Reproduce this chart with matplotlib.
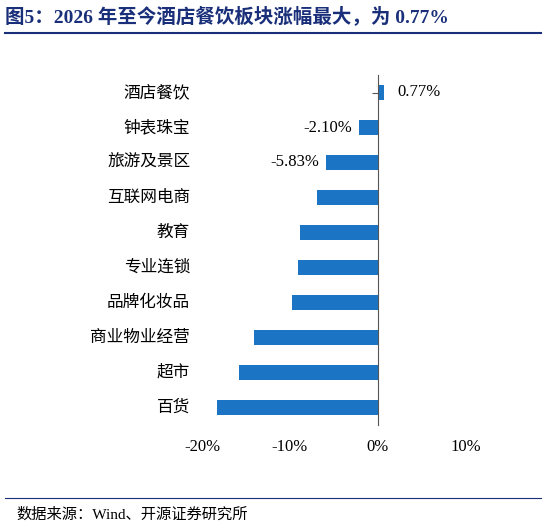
import matplotlib
matplotlib.use("Agg")
import matplotlib.pyplot as plt
import matplotlib.transforms as mtrans

categories = ["酒店餐饮", "钟表珠宝", "旅游及景区", "互联网电商", "教育", "专业连锁",
              "品牌化妆品", "商业物业经营", "超市", "百货"]
values = [0.77, -2.10, -5.83, -6.9, -8.9, -9.1, -9.8, -14.1, -15.8, -18.3]
labeled = {0: "0.77%", 1: "-2.10%", 2: "-5.83%"}
xticks = [-20, -10, 0, 10]
xticklabels = ["-20%", "-10%", "0%", "10%"]

fam = ["Liberation Serif", "Noto Sans CJK SC"]
plt.rcParams['font.family'] = fam

fig = plt.figure(figsize=(5.46, 5.30), dpi=100)
ax = fig.add_axes([180/546, 1-425/530, 290/546, 350/530])
y = list(range(len(categories)))
ax.barh(y, values, height=0.45, color="#1c75c4", zorder=2)
ax.set_ylim(9.5, -0.5)
ax.set_xlim(-22.5, 10.5)
for s in ["top", "right", "bottom"]:
    ax.spines[s].set_visible(False)
ax.spines["left"].set_position(("data", 0))
ax.spines["left"].set_color("#555555")
ax.set_yticks(y)
ax.set_yticklabels([])
ax.tick_params(axis="y", length=4, color="#555555")
ax.set_xticks(xticks)
ax.set_xticklabels(xticklabels, fontsize=12)
ax.tick_params(axis="x", length=0, pad=10)
tr = mtrans.blended_transform_factory(ax.transAxes, ax.transData)
for i, c in enumerate(categories):
    ax.text(0.035, i, c, transform=tr, ha="right", va="center", fontsize=12,
            family="Noto Sans CJK SC")
for i, t in labeled.items():
    v = values[i]
    if v > 0:
        ax.text(v + 1.5, i, t, ha="left", va="center", fontsize=12)
    else:
        ax.text(v - 0.8, i, t, ha="right", va="center", fontsize=12)

fig.text(0.01, 1-16/530, "图5：2026 年至今酒店餐饮板块涨幅最大，为 0.77%", fontsize=14,
         fontweight="bold", color="#1a2f7a", va="center", family=fam)
fig.add_artist(plt.Line2D([0.01, 0.99], [1-33/530]*2, color="#1a2f7a", lw=1.5))
fig.add_artist(plt.Line2D([0.01, 0.99], [1-498/530]*2, color="#1a2f7a", lw=0.8))
fig.text(0.03, 1-515/530, "数据来源：Wind、开源证券研究所", fontsize=11, va="center", family=fam)
fig.savefig("out.png", dpi=100)
